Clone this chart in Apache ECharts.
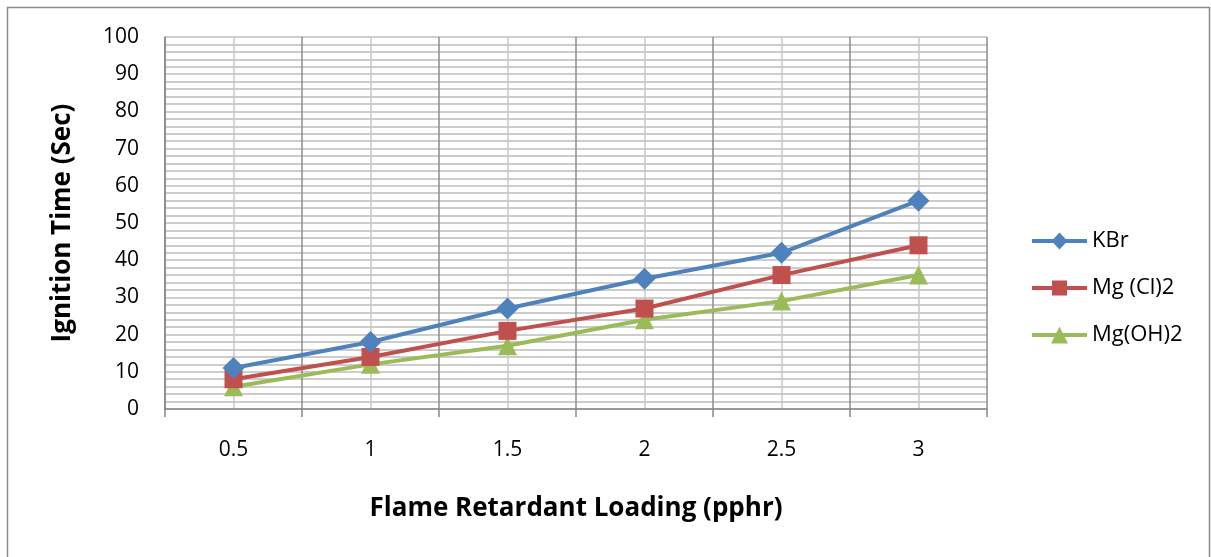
<!DOCTYPE html>
<html><head><meta charset="utf-8">
<script src="https://cdn.jsdelivr.net/npm/echarts@6/dist/echarts.min.js"></script>
<style>html,body{margin:0;padding:0;background:#fff}#c{width:1211px;height:557px}</style>
</head><body><div id="c"></div>
<script>
const loadings = [0.5, 1, 1.5, 2, 2.5, 3];
const kbr = [11, 18, 27, 35, 42, 56];
const mgcl2 = [8, 14, 21, 27, 36, 44];
const mgoh2 = [6, 12, 17, 24, 29, 36];
const seriesNames = ['KBr', 'Mg (Cl)2', 'Mg(OH)2'];
const colors = ['#4F81BD', '#C0504D', '#9BBB59'];
const symbols = ['diamond', 'rect', 'triangle'];
const symbolSizes = [22, 18, 19];
const allValues = [kbr, mgcl2, mgoh2];

// legend icons: line with marker, drawn in a 55x17 box
const legendIcons = [
  'path://M0,6.5H55V10.5H0Z M27.5,0L35.5,8.5L27.5,17L19.5,8.5Z',
  'path://M0,6.5H55V10.5H0Z M20,1H35V16H20Z',
  'path://M0,6.5H55V10.5H0Z M27.5,0L36,17L19,17Z'
];

const FONT = '"Open Sans", "Noto Sans", sans-serif';
const chart = echarts.init(document.getElementById('c'));
chart.setOption({
  animation: false,
  backgroundColor: '#fff',
  graphic: [{type:'rect', shape:{x:7.5,y:7.5,width:1202,height:560}, style:{fill:'none', stroke:'#8a8a8a', lineWidth:1.5}, silent:true}],
  grid: {left:165, right:224, top:37, bottom:148},
  legend: {
    orient:'vertical', left:1027, top:225, itemGap:25, itemWidth:55, itemHeight:17,
    textStyle:{fontFamily:FONT, fontSize:22, color:'#000'},
    itemStyle:{borderWidth:0},
    data: seriesNames.map((n, i) => ({name:n, icon:legendIcons[i]}))
  },
  xAxis: [{
    type:'value', min:0.25, max:3.25, interval:0.25,
    name:'Flame Retardant Loading (pphr)', nameLocation:'middle', nameGap:87,
    nameTextStyle:{fontFamily:FONT, fontSize:26, fontWeight:'bold', color:'#000'},
    axisLine:{show:true, lineStyle:{color:'#888', width:1.5}},
    axisTick:{show:false},
    axisLabel:{margin:31, fontFamily:FONT, fontSize:21, color:'#000',
      formatter: v => (Math.abs(v*2 - Math.round(v*2)) < 1e-6) ? String(v) : ''},
    splitLine:{show:true, lineStyle:{color:['#8c8c8c','#c8c8c8'], width:1.5}}
  },{
    type:'value', min:0.25, max:3.25, interval:0.5, position:'bottom',
    axisLine:{show:false}, axisLabel:{show:false}, splitLine:{show:false},
    axisTick:{show:true, length:8, lineStyle:{color:'#888', width:1.5}}
  }],
  yAxis: {
    type:'value', min:0, max:100, interval:10,
    name:'Ignition Time (Sec)', nameLocation:'middle', nameGap:89, nameRotate:90,
    nameTextStyle:{fontFamily:FONT, fontSize:26, fontWeight:'bold', color:'#000'},
    axisLine:{show:true, lineStyle:{color:'#888', width:1.5}},
    axisTick:{show:false},
    axisLabel:{margin:26, fontFamily:FONT, fontSize:21, color:'#000'},
    splitLine:{show:true, lineStyle:{color:'#bcbcbc', width:1.5}},
    minorTick:{show:false, splitNumber:5},
    minorSplitLine:{show:true, lineStyle:{color:'#bcbcbc', width:1.5}}
  },
  series: allValues.map((vals, i) => ({
    name: seriesNames[i], type:'line',
    data: loadings.map((x, j) => [x, vals[j]]),
    symbol: symbols[i], symbolSize: symbolSizes[i],
    lineStyle:{color:colors[i], width:4},
    itemStyle:{color:colors[i]},
    z: 10 - i
  }))
});
</script></body></html>
